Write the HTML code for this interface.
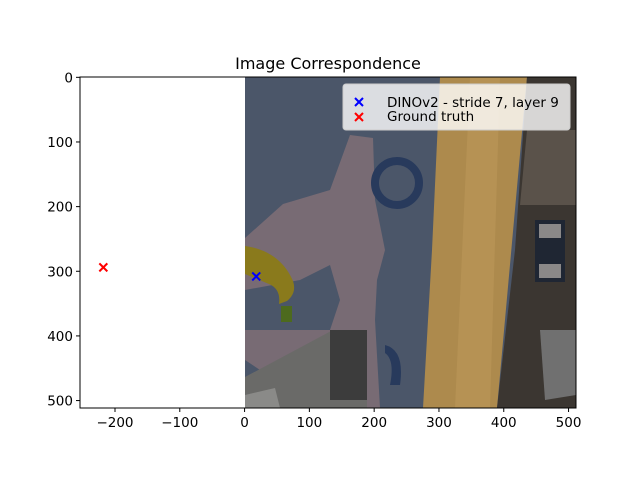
<!DOCTYPE html>
<html><head><meta charset="utf-8"><style>
body{margin:0;background:#fff;}
svg text{font-family:"DejaVu Sans","Liberation Sans",sans-serif;}
</style></head><body>
<svg id="chart" width="640" height="480" xmlns="http://www.w3.org/2000/svg">
<rect width="640" height="480" fill="#fff"/>
<text x="328" y="69" font-size="16" text-anchor="middle">Image Correspondence</text>
<g id="img">
<rect x="245" y="77" width="331" height="331" fill="#4b5669"/>
<polygon points="245,238 283,204 330,190 350,135 373,138 375,200 385,250 377,280 375,320 380,408 300,408 260,370 245,360" fill="#786b74"/>
<polygon points="245,290 300,280 330,265 340,300 330,330 245,330" fill="#4b5669"/>
<circle cx="397" cy="183" r="22" fill="none" stroke="#283a5c" stroke-width="8"/>
<path d="M385,345 q20,5 15,40 l-10,0 q5,-25 -5,-32z" fill="#283a5c"/>
<polygon points="440,77 527,77 497,408 423,408 432,250" fill="#ad8a4d"/>
<polygon points="470,77 500,77 490,408 455,408" fill="#b99657" opacity="0.7"/>
<polygon points="527,77 576,77 576,408 497,408 515,250" fill="#3b3631"/>
<polygon points="527,130 576,130 576,205 520,205" fill="#5a524a"/>
<rect x="535" y="220" width="30" height="62" fill="#1f2633"/>
<rect x="539" y="224" width="22" height="14" fill="#8a8888"/>
<rect x="539" y="264" width="22" height="14" fill="#8a8888"/>
<polygon points="540,330 576,330 576,395 545,400" fill="#707070"/>
<path d="M245,246 q35,5 48,35 q4,12 -6,20 l-8,3 q2,-15 -10,-20 l-24,-10z" fill="#8a7a1c"/>
<rect x="281" y="306" width="11" height="16" fill="#4d6a1e"/>
<polygon points="245,377 333,330 367,330 367,408 245,408" fill="#6a6a68"/>
<rect x="330" y="330" width="37" height="70" fill="#3c3c3c"/>
<polygon points="245,395 275,388 280,408 245,408" fill="#8a8a88"/>
</g>
<g id="axes"></g>
<g id="marks"></g>
<g>
<rect x="343" y="84" width="227" height="46" rx="3" fill="#fff" fill-opacity="0.8" stroke="#ccc"/>
<g stroke="#00f" stroke-width="2"><line x1="355" y1="98" x2="363" y2="106"/><line x1="355" y1="106" x2="363" y2="98"/></g>
<text x="387" y="107" font-size="13.5">DINOv2 - stride 7, layer 9</text>
<g stroke="#f00" stroke-width="2"><line x1="355" y1="113" x2="363" y2="121"/><line x1="355" y1="121" x2="363" y2="113"/></g>
<text x="387" y="121" font-size="13.5">Ground truth</text>
</g>
</svg>
<script>
const xTicks=[-200,-100,0,100,200,300,400,500];
const yTicks=[0,100,200,300,400,500];
const predX=[18];const predY=[308];
const gtX=[-218];const gtY=[294];
const X0=80,X1=576,Y0=77,Y1=408,xmin=-254,xmax=511.5,ymin=-0.5,ymax=511.5;
const sx=v=>X0+(v-xmin)/(xmax-xmin)*(X1-X0);
const sy=v=>Y0+(v-ymin)/(ymax-ymin)*(Y1-Y0);
const NS="http://www.w3.org/2000/svg";
const ax=document.getElementById('axes');
function mk(t,a,p){const e=document.createElementNS(NS,t);for(const k in a)e.setAttribute(k,a[k]);p.appendChild(e);return e;}
const fr=mk('rect',{x:X0,y:Y0,width:X1-X0,height:Y1-Y0,fill:'none',stroke:'#000','stroke-width':1},ax);


xTicks.forEach(v=>{const x=sx(v);mk('line',{x1:x,x2:x,y1:Y1,y2:Y1+4,stroke:'#000'},ax);
const t=mk('text',{x:x,y:Y1+19,'font-size':13.5,'text-anchor':'middle'},ax);t.textContent=v<0?'\u2212'+(-v):v;

});
yTicks.forEach(v=>{const y=sy(v);mk('line',{x1:X0-4,x2:X0,y1:y,y2:y,stroke:'#000'},ax);
const t=mk('text',{x:X0-7,y:y+5,'font-size':13.5,'text-anchor':'end'},ax);t.textContent=v;

});
const mg=document.getElementById('marks');
function cross(x,y,c,n){const g=mk('g',{},mg);


const X=sx(x),Y=sy(y),r=4;
mk('line',{x1:X-r,y1:Y-r,x2:X+r,y2:Y+r,stroke:c,'stroke-width':2},g);
mk('line',{x1:X-r,y1:Y+r,x2:X+r,y2:Y-r,stroke:c,'stroke-width':2},g);}
predX.forEach((v,i)=>cross(v,predY[i],'#00f','prediction-marker'));
gtX.forEach((v,i)=>cross(v,gtY[i],'#f00','ground-truth-marker'));
</script>
</body></html>
